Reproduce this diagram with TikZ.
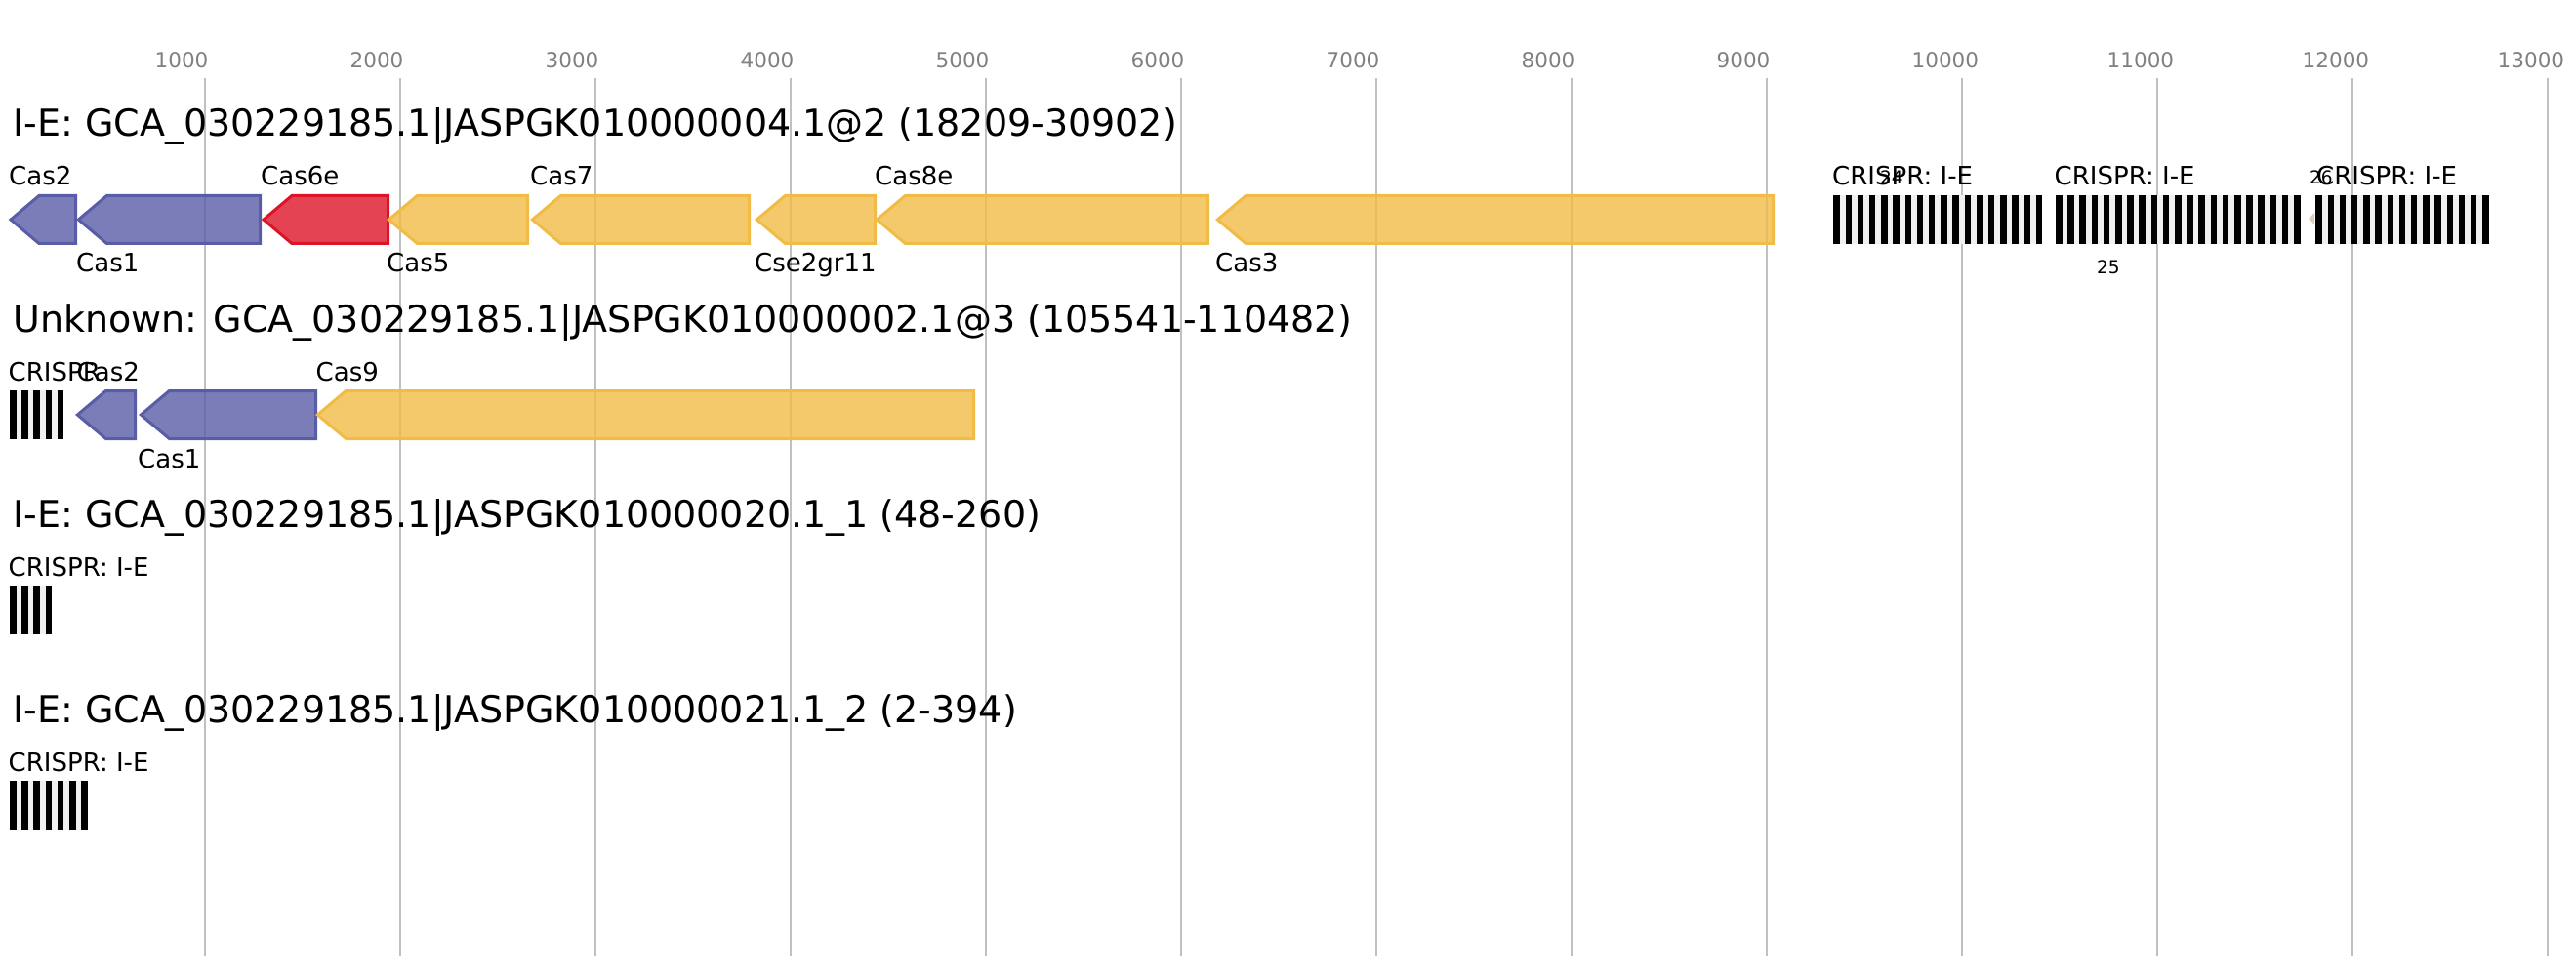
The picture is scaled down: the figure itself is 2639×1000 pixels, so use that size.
\documentclass[tikz,border=0pt]{standalone}
\usepackage{fontspec}
\setmainfont{DejaVu Sans}
\definecolor{blueS}{RGB}{89,92,166}
\definecolor{redS}{RGB}{220,20,40}
\definecolor{orS}{RGB}{240,188,70}
\definecolor{gridc}{RGB}{192,192,192}
\definecolor{tickc}{RGB}{128,128,128}
\definecolor{spacerc}{RGB}{240,240,240}
\definecolor{tinyc}{RGB}{217,205,194}
\tikzset{
  gridline/.style={draw=gridc, line width=1.5},
  ticklbl/.style={anchor=base west, inner sep=0, text=tickc, font=\fontsize{21.5}{25}\selectfont},
  titlelbl/.style={anchor=base west, inner sep=0, font=\fontsize{38}{44}\selectfont},
  genelbl/.style={anchor=base west, inner sep=0, font=\fontsize{26}{30}\selectfont},
  numlbl/.style={anchor=base west, inner sep=0, font=\fontsize{18.5}{22}\selectfont},
  geneshape/.style={line width=3, line join=miter, fill opacity=0.8},
}
% #1 tip x, #2 right x, #3 top y, #4 colour
\newcommand\drawgene[4]{%
  \draw[geneshape, draw=#4, fill=#4] (#1,#3+24.5) -- (#1+29,#3) -- (#2,#3) -- (#2,#3+49) -- (#1+29,#3+49) -- cycle;
}
% #1 start x, #2 top y, #3 number of repeats
\newcommand\crisprarray[3]{%
  \fill[spacerc] (#1,#2) rectangle ({#1+(#3-1)*12.2+6.5},#2+50);
  \foreach \i in {1,...,#3} {\fill[black] ({#1+(\i-1)*12.2},#2) rectangle ++(6.5,50);}
}
\begin{document}
\begin{tikzpicture}[x=1pt,y=-1pt]
\useasboundingbox (0,0) rectangle (2639,1000);
% grid and scale
\foreach \k in {1,...,13} {
  \draw[gridline] ({10+200*\k},80) -- ({10+200*\k},980);
  \node[ticklbl] (tick\k) at ({10+200*\k-51.5},70) {\the\numexpr\k*1000\relax};
}
% ---------- track 1
\node[titlelbl] (t1) at (13.3,140) {I-E: GCA\_030229185.1|JASPGK010000004.1@2 (18209-30902)};
\drawgene{11}{77.5}{200.5}{blueS}
\drawgene{80.4}{266.5}{200.5}{blueS}
\drawgene{270}{397.5}{200.5}{redS}
\drawgene{398.4}{540.5}{200.5}{orS}
\drawgene{545.4}{767.5}{200.5}{orS}
\drawgene{775.4}{896.5}{200.5}{orS}
\drawgene{898.4}{1237.5}{200.5}{orS}
\drawgene{1247.4}{1816.5}{200.5}{orS}
\node[genelbl] (l1a) at (9,190) {Cas2};
\node[genelbl] (l1b) at (78,279) {Cas1};
\node[genelbl] (l1c) at (267,190) {Cas6e};
\node[genelbl] (l1d) at (396,279) {Cas5};
\node[genelbl] (l1e) at (543,190) {Cas7};
\node[genelbl] (l1f) at (773,279) {Cse2gr11};
\node[genelbl] (l1g) at (896,190) {Cas8e};
\node[genelbl] (l1h) at (1245,279) {Cas3};
\crisprarray{1878.3}{200}{18}
\crisprarray{2106}{200}{21}
\crisprarray{2372.3}{200}{15}
\fill[tinyc] (2365,224) -- (2371,218) -- (2371,230) -- cycle;
\node[genelbl] (c1a) at (1877,190) {CRISPR: I-E};
\node[genelbl] (c1b) at (2104.5,190) {CRISPR: I-E};
\node[genelbl] (c1c) at (2373,190) {CRISPR: I-E};
\node[numlbl] (n24) at (1926,189) {24};
\node[numlbl] (n25) at (2148,280) {25};
\node[numlbl] (n26) at (2366,189) {26};
% ---------- track 2
\node[titlelbl] (t2) at (13.3,340) {Unknown: GCA\_030229185.1|JASPGK010000002.1@3 (105541-110482)};
\crisprarray{10}{400}{5}
\drawgene{79.4}{138.5}{400.5}{blueS}
\drawgene{144.4}{323.5}{400.5}{blueS}
\drawgene{325.4}{997.5}{400.5}{orS}
\node[genelbl] (c2) at (8.5,390) {CRISPR};
\node[genelbl] (l2a) at (78.5,390) {Cas2};
\node[genelbl] (l2b) at (141,479) {Cas1};
\node[genelbl] (l2c) at (323.5,390) {Cas9};
% ---------- track 3
\node[titlelbl] (t3) at (13.3,540) {I-E: GCA\_030229185.1|JASPGK010000020.1\_1 (48-260)};
\node[genelbl] (c3) at (8.5,590) {CRISPR: I-E};
\crisprarray{10}{600}{4}
% ---------- track 4
\node[titlelbl] (t4) at (13.3,740) {I-E: GCA\_030229185.1|JASPGK010000021.1\_2 (2-394)};
\node[genelbl] (c4) at (8.5,790) {CRISPR: I-E};
\crisprarray{10}{800}{7}
\end{tikzpicture}
\end{document}
